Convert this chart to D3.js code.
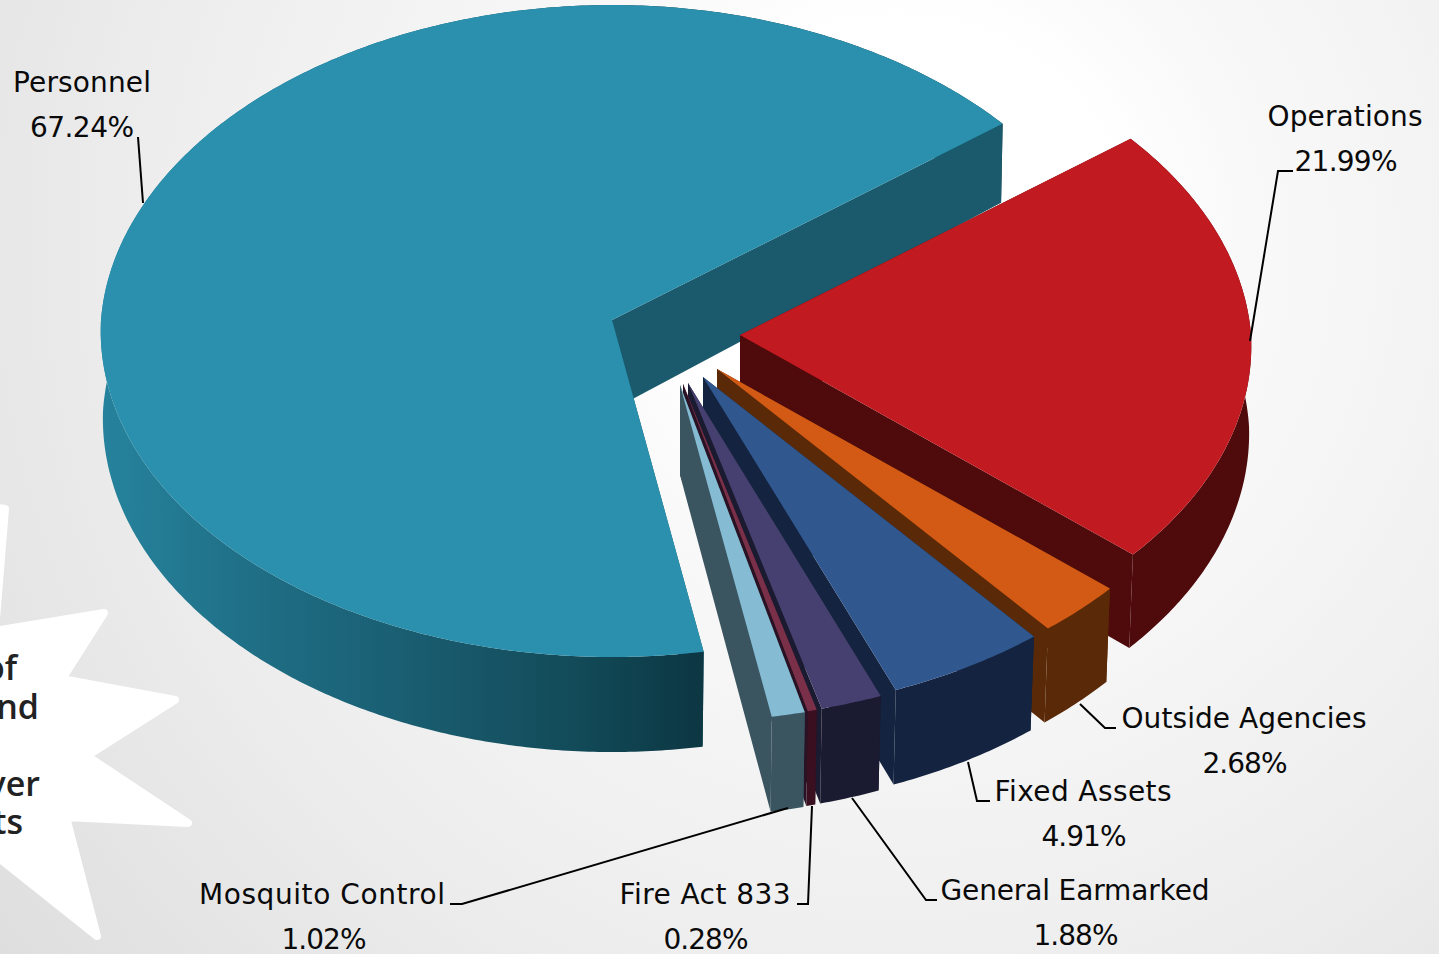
<!DOCTYPE html>
<html>
<head>
<meta charset="utf-8">
<title>Budget share by category</title>
<script src="https://cdnjs.cloudflare.com/ajax/libs/d3/7.8.5/d3.min.js"></script>
<style>
  html, body { margin: 0; padding: 0; overflow: hidden; background: #fff; }
  svg { display: block; }
  .label { font-family: "DejaVu Sans", sans-serif; font-size: 28px; fill: #0a0a0a; text-anchor: middle; }
  .note { font-family: "Open Sans", sans-serif; font-weight: 600; font-size: 34px; fill: #222; text-anchor: end; }
  .leader { fill: none; stroke: #000; stroke-width: 2; }
</style>
</head>
<body>
<svg id="chart" width="1439" height="954"></svg>
<script>
// Budget categories and their share of the total, in percent
const categories = ["Personnel", "Operations", "Outside Agencies", "Fixed Assets", "General Earmarked", "Fire Act 833", "Mosquito Control"];
const shares = [67.24, 21.99, 2.68, 4.91, 1.88, 0.28, 1.02];

// Slice colours: top face, outer wall, cut faces
const topColors = ["#2a90ad", "#c21a21", "#d25a14", "#30588f", "#45406f", "#7a3048", "#85bbd3"];
const wallColors = ["url(#tealWall)", "#4f0a0c", "#5a2a08", "#14233f", "#1a1a30", "#3a1020", "#3a5560"];
const cutColors = ["#1a5a6c", "#4f0a0c", "#5a2a08", "#14233f", "#1a1a30", "#2a1225", "#3a5560"];

// Where each exploded slice has its tip on the page
const tipX = [612, 740, 717, 703, 688, 683, 680];
const tipY = [320, 335, 369, 377, 383, 384, 385];

// Label placement: centre x of each line, baselines, text widths
const labelX = [82, 1345, 1244, 1083, 1075, 705, 322];
const labelY = [92, 126, 728, 801, 900, 904, 904];
const percentX = [82, 1346, 1245, 1084, 1076, 706, 324];
const nameWidth = [138, 155, 245, 177, 269, 171, 246];
const percentWidth = [104, 103, 85, 85, 85, 85, 85];
const leaders = [
  [[138, 137], [143, 203]],
  [[1293, 171], [1278, 171], [1250, 341]],
  [[1116, 728], [1105, 728], [1080, 704]],
  [[990, 801], [977, 801], [968, 762]],
  [[937, 900], [926, 900], [852, 798]],
  [[797, 904], [808, 904], [812, 806]],
  [[450, 904], [462, 904], [788, 808]]
];

// Callout burst running off the left edge
const burstPoints = [[-20, 505], [5, 509], [-5, 631], [104, 613], [62, 679], [175, 700], [87, 756], [188, 823], [66, 817], [97, 936], [0, 859], [-20, 856]];
const burstLines = [["of", 17, 680], ["nd", 39, 719], ["ver", 40, 796], ["ts", 23, 834]];

const svg = d3.select("#chart");
const defs = svg.append("defs");

const glow = defs.append("radialGradient").attr("id", "backdrop")
  .attr("gradientUnits", "userSpaceOnUse")
  .attr("cx", 900).attr("cy", 250).attr("r", 1150);
[[0.2, "#ffffff"], [0.3, "#f9f9f9"], [0.66, "#ededed"], [1, "#dedede"]].forEach(([o, c]) =>
  glow.append("stop").attr("offset", o).attr("stop-color", c));

const tealWall = defs.append("linearGradient").attr("id", "tealWall")
  .attr("gradientUnits", "userSpaceOnUse")
  .attr("x1", 100).attr("x2", 700).attr("y1", 0).attr("y2", 0);
[[0, "#26839d"], [0.25, "#1f6f86"], [0.55, "#195b6e"], [0.8, "#124a58"], [1, "#0c3743"]].forEach(([o, c]) =>
  tealWall.append("stop").attr("offset", o).attr("stop-color", c));

svg.append("rect").attr("width", 1439).attr("height", 954).attr("fill", "url(#backdrop)");

// Burst with rounded points
svg.append("path")
  .attr("d", d3.line()(burstPoints) + "Z")
  .attr("fill", "#fff").attr("stroke", "#fff").attr("stroke-width", 8).attr("stroke-linejoin", "round");
svg.selectAll(".note").data(burstLines).join("text")
  .attr("class", "note").attr("x", d => d[1]).attr("y", d => d[2]).text(d => d[0]);

// Ground-plane unit circle to page offsets, with a slight perspective toward the viewer
const spreadX = d3.scaleLinear().domain([-1, 1]).range([-511, 511]);
const spreadY = d3.scaleLinear().domain([-1, 1]).range([-325.6, 325.6]);
const perspectiveX = d3.scaleLinear().domain([-1, 0, 1]).range([0.95, 1, 1.034]);
const perspectiveY = d3.scaleLinear().domain([-1, 1]).range([1 / 1.0338, 1 / 0.9662]);
// Extrusion depth grows toward the front of the disc, the lower rim narrows a little
const depth = d3.scaleLinear().domain([-1, 0, 1]).range([72, 90, 95]);
const wallShrink = d3.scaleLinear().domain([-1, 0, 1]).range([0.996, 0.996, 0.988]);

const pie = d3.pie().sort(null)
  .startAngle(170 * Math.PI / 180)
  .endAngle(530 * Math.PI / 180);
const line = d3.line();

function topPoint(i, angle, r = 1) {
  const u = Math.sin(angle) * r, v = -Math.cos(angle) * r;
  return [tipX[i] + spreadX(u) * perspectiveX(v), tipY[i] + spreadY(v) * perspectiveY(v)];
}
function bottomPoint(i, angle, r = 1) {
  const [x, y] = topPoint(i, angle, r);
  const v = -Math.cos(angle) * r;
  return [tipX[i] + (x - tipX[i]) * wallShrink(v), y + depth(v)];
}
function arcSamples(a0, a1) {
  const n = Math.max(2, Math.ceil((a1 - a0) / 0.01));
  return d3.range(n + 1).map(k => a0 + (a1 - a0) * k / n);
}
function cutFace(i, angle) {
  return line([[tipX[i], tipY[i]], topPoint(i, angle), bottomPoint(i, angle), bottomPoint(i, angle, 0)]) + "Z";
}

const arcs = pie(shares);
const slices = svg.selectAll("g.slice").data(arcs).join("g").attr("class", "slice");

slices.each(function (d, i) {
  const g = d3.select(this);
  const angles = arcSamples(d.startAngle, d.endAngle);
  const upper = angles.map(a => topPoint(i, a));
  const lower = angles.map(a => bottomPoint(i, a)).reverse();

  // Back to front: leading cut face, outer wall, trailing cut face, top
  g.append("path").attr("d", cutFace(i, d.startAngle)).attr("fill", cutColors[i]);
  g.append("path").attr("d", line(upper.concat(lower)) + "Z").attr("fill", wallColors[i]);
  g.append("path").attr("d", cutFace(i, d.endAngle)).attr("fill", cutColors[i]);
  g.append("path").attr("d", line([[tipX[i], tipY[i]]].concat(upper)) + "Z").attr("fill", topColors[i]);
});

svg.selectAll(".leader").data(leaders).join("path")
  .attr("class", "leader").attr("d", d => line(d));

categories.forEach((name, i) => {
  svg.append("text").attr("class", "label")
    .attr("x", labelX[i]).attr("y", labelY[i])
    .attr("textLength", nameWidth[i]).text(name);
  svg.append("text").attr("class", "label")
    .attr("x", percentX[i]).attr("y", labelY[i] + 45)
    .attr("textLength", percentWidth[i]).text(shares[i].toFixed(2) + "%");
});
</script>
</body>
</html>
